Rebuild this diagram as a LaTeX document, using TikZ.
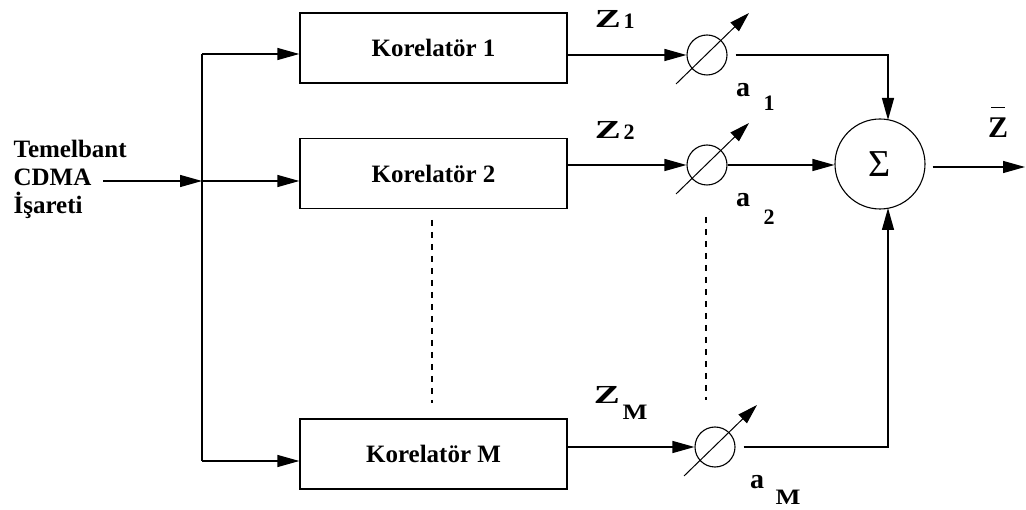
\documentclass[tikz,border=0pt]{standalone}
\usepackage{fontspec}
\setmainfont{Liberation Serif}
\usetikzlibrary{arrows.meta,calc}
\begin{document}
\begin{tikzpicture}[x=1pt,y=-1pt,
  line width=1.3pt,
  tip/.style={-{Triangle[length=22pt,width=12pt]}},
  corr/.style={draw,line width=1.3pt,minimum width=267pt,minimum height=70pt,inner sep=0pt,
     font=\fontsize{25}{28}\selectfont\bfseries},
  gain/.style={draw,circle,line width=1.1pt,minimum size=40pt,inner sep=0pt},
  dashline/.style={dash pattern=on 6pt off 6pt,line width=1.6pt},
  zlbl/.style={inner sep=0pt,font=\fontsize{26}{28}\selectfont\bfseries},
  albl/.style={inner sep=0pt,font=\fontsize{28}{30}\selectfont\bfseries},
  sub/.style={inner sep=0pt,font=\fontsize{22}{24}\selectfont\bfseries}]
\useasboundingbox (0,0) rectangle (1026,510);
% input text
\node[anchor=west,align=left,inner sep=0pt,font=\fontsize{25}{28}\selectfont\bfseries] (in) at (13,179) {Temelbant\\CDMA\\İşareti};
\coordinate (inS) at (103,181);
\coordinate (j2) at (202,181);
\coordinate (j1) at (202,54);
\coordinate (jM) at (202,461);
% correlators
\node[corr] (k1) at (433.5,48) {Korelatör 1};
\node[corr] (k2) at (433.5,173.5) {Korelatör 2};
\node[corr] (kM) at (433.5,454) {Korelatör M};
% gains
\node[gain] (c1) at (707,55) {};
\node[gain] (c2) at (707,165) {};
\node[gain] (cM) at (715,447) {};
% sum
\node[draw,circle,line width=1.1pt,minimum size=90pt,inner sep=0pt,font=\fontsize{38}{40}\selectfont] (sum) at (880,164) {Σ};
% input
\draw[tip] (inS) -- (j2);
\draw (j1) -- (jM);
\draw[tip] (j1) -- (k1.west |- j1);
\draw[tip] (j2) -- (k2.west |- j2);
\draw[tip] (jM) -- (kM.west |- jM);
% correlators to gains
\draw[tip] (k1.east |- c1) -- (c1.west);
\draw[tip] (k2.east |- c2) -- (c2.west);
\draw[tip] (kM.east |- cM) -- (cM.west);
% variable arrows through gains
\foreach \c in {c1,c2,cM}{
  \draw[line width=1pt,-{Triangle[length=20pt,width=12pt]}] ($(\c)+(-31,29)$) -- ($(\c)+(42,-42)$);
}
% gains to sum
\coordinate (t1) at (888,55);
\coordinate (tM) at (888,447);
\coordinate (sT) at (888,120);
\coordinate (sB) at (888,208);
\draw[tip] ($(c1.east)+(8,0)$) -- (t1) -- (sT);
\draw[tip] (c2.east) -- (c2.east -| sum.west);
\draw[tip] ($(cM.east)+(8,0)$) -- (tM) -- (sB);
% output
\coordinate (out) at (1025,167);
\draw[tip] ($(sum.east |- out)+(7,0)$) -- (out);
% dashed continuation
\coordinate (d1a) at (432,220);
\coordinate (d1b) at (432,403);
\coordinate (d2a) at (706,217);
\coordinate (d2b) at (706,400);
\draw[dashline] (d1a) -- (d1b);
\draw[dashline] (d2a) -- (d2b);
% labels
\node[zlbl] (z1) at (608,19) {\scalebox{1.5}[1]{Z}};
\node[sub] (z1s) at (629,21) {1};
\node[zlbl] (z2) at (608,130) {\scalebox{1.5}[1]{Z}};
\node[sub] (z2s) at (629,132) {2};
\node[zlbl] (zM) at (607,395) {\scalebox{1.5}[1]{Z}};
\node[sub] (zMs) at (635,412) {\scalebox{1.2}[1]{M}};
\node[albl] (a1) at (743,90) {a};
\node[sub] (a1s) at (769,103) {1};
\node[albl] (a2) at (743,200) {a};
\node[sub] (a2s) at (769,217) {2};
\node[albl] (aM) at (757,482) {a};
\node[sub] (aMs) at (788,497) {\scalebox{1.2}[1]{M}};
\node[inner sep=0pt,font=\fontsize{30}{32}\selectfont\bfseries] (zbar) at (998,128) {Z};
\draw[line width=1pt] (991,108) -- (1005,108);
\end{tikzpicture}
\end{document}
